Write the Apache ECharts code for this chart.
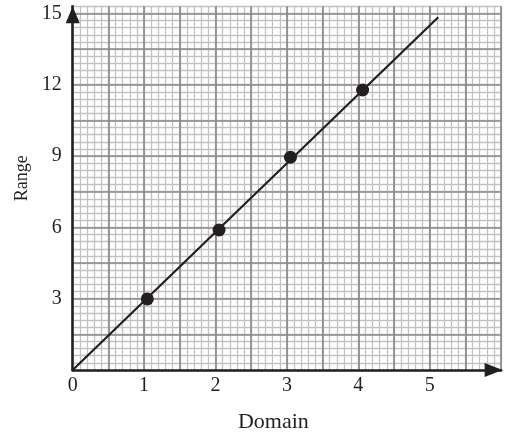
<!DOCTYPE html>
<html>
<head>
<meta charset="utf-8">
<script src="https://cdn.jsdelivr.net/npm/echarts@6/dist/echarts.min.js"></script>
<style>
html,body{margin:0;padding:0;background:#fff;}
#chart{width:505px;height:435px;}
</style>
</head>
<body>
<div id="chart"></div>
<script>
// ---- data ----
var xTickLabels = [0, 1, 2, 3, 4, 5];
var yTickLabels = [3, 6, 9, 12, 15];
var domainValues = [1.045, 2.05, 3.05, 4.06];
var rangeValues = [2.99, 5.89, 8.95, 11.78];
var lineDomain = [0, 5.12];
var lineRange = [0, 14.84];

var xMax = 6, yMax = 15.3;
var ink = '#231f20';
var font = 'Liberation Serif';

function near(a, b) { return Math.abs(a - b) < 1e-6; }
function inList(list, v) { for (var i = 0; i < list.length; i++) { if (near(list[i], v)) return true; } return false; }

var hidden = {
  axisLine: { show: false }, axisTick: { show: false }, axisLabel: { show: false }
};

var chart = echarts.init(document.getElementById('chart'), null, { renderer: 'canvas' });
chart.setOption({
  animation: false,
  backgroundColor: '#fff',
  grid: { left: 72.7, right: 3.9, top: 6.3, bottom: 65, outerBoundsMode: 'none' },
  xAxis: [
    {
      type: 'value', min: 0, max: xMax, interval: 1, position: 'bottom', z: 3,
      name: 'Domain', nameLocation: 'middle', nameGap: 41,
      nameTextStyle: { fontFamily: font, fontSize: 22, color: ink, padding: [0, 27, 0, 0] },
      axisLine: { show: true, lineStyle: { color: ink, width: 2.6 }, symbol: ['none', 'triangle'], symbolSize: [14, 18], symbolOffset: [0, -7.5] },
      axisTick: { show: false },
      splitLine: { show: false },
      axisLabel: {
        margin: 6, fontFamily: font, fontSize: 20, color: ink,
        formatter: function (v) { return inList(xTickLabels, v) ? String(v) : ''; }
      }
    },
    Object.assign({ type: 'value', min: 0, max: xMax, interval: 0.1, position: 'bottom', z: 0,
      splitLine: { show: true, lineStyle: { color: '#c2c2c2', width: 1.3 } } }, hidden),
    Object.assign({ type: 'value', min: 0, max: xMax, interval: 0.5, position: 'bottom', z: 1,
      splitLine: { show: true, showMinLine: false, lineStyle: { color: '#8a8a8a', width: 1.7 } } }, hidden)
  ],
  yAxis: [
    {
      type: 'value', min: 0, max: yMax, interval: 3, position: 'left', z: 3,
      name: 'Range', nameLocation: 'middle', nameGap: 38, nameRotate: 90,
      nameTextStyle: { fontFamily: font, fontSize: 18, color: ink, padding: [0, 0, 0, 20] },
      axisLine: { show: true, lineStyle: { color: ink, width: 2.6 }, symbol: ['none', 'triangle'], symbolSize: [14, 17], symbolOffset: [0, -8.5] },
      axisTick: { show: false },
      splitLine: { show: false },
      axisLabel: {
        margin: 11, fontFamily: font, fontSize: 20, color: ink,
        formatter: function (v) { return inList(yTickLabels, v) ? String(v) : ''; }
      }
    },
    Object.assign({ type: 'value', min: 0, max: yMax, interval: 0.3, position: 'left', z: 0,
      splitLine: { show: true, lineStyle: { color: '#c2c2c2', width: 1.3 } } }, hidden),
    Object.assign({ type: 'value', min: 0, max: yMax, interval: 1.5, position: 'left', z: 1,
      splitLine: { show: true, showMinLine: false, showMaxLine: false, lineStyle: { color: '#8a8a8a', width: 1.7 } } }, hidden)
  ],
  series: [
    {
      type: 'line', xAxisIndex: 0, yAxisIndex: 0, z: 5,
      data: lineDomain.map(function (x, i) { return [x, lineRange[i]]; }),
      symbol: 'none', lineStyle: { color: ink, width: 2.2 }
    },
    {
      type: 'scatter', xAxisIndex: 0, yAxisIndex: 0, z: 6,
      data: domainValues.map(function (x, i) { return [x, rangeValues[i]]; }),
      symbol: 'circle', symbolSize: 13, itemStyle: { color: ink, opacity: 1 }
    }
  ]
});
</script>
</body>
</html>
